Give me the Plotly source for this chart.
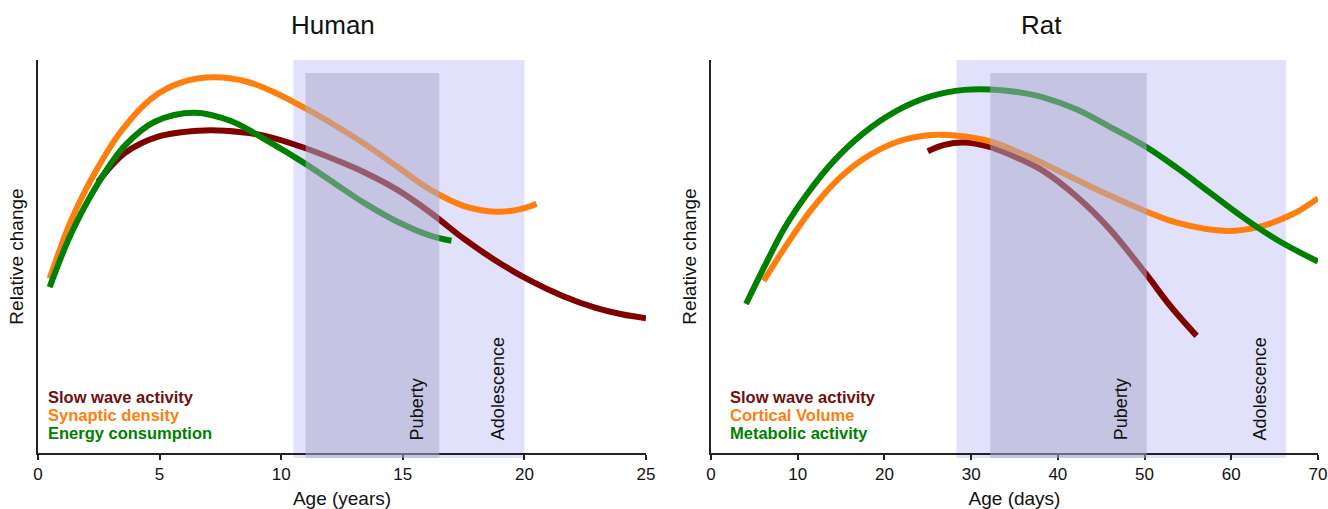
import plotly.graph_objects as go

# ---------------- data ----------------
human_swa_x = [2.47, 3.57, 4.94, 6.58, 7.68, 9.33, 10.97, 12.35, 13.39, 14.76, 16.13, 17.49, 18.86, 20.2, 21.6, 22.9, 24.0, 25.0]
human_swa_y = [69.0, 76.3, 80.5, 82.0, 82.0, 80.7, 77.6, 74.3, 71.5, 67.0, 61.2, 54.6, 48.8, 44.0, 39.9, 37.0, 35.3, 34.3]

human_syn_x = [0.48, 1.37, 2.33, 3.43, 4.66, 5.9, 7.27, 8.64, 9.88, 10.97, 12.2, 13.39, 14.76, 16.13, 17.49, 18.86, 19.8, 20.5]
human_syn_y = [44.4, 59.3, 71.2, 82.0, 90.2, 94.3, 95.6, 94.4, 91.3, 87.8, 83.4, 78.8, 72.9, 67.0, 62.9, 61.4, 62.0, 63.4]

human_energy_x = [0.48, 1.37, 2.47, 3.57, 4.8, 6.45, 7.96, 9.33, 10.97, 12.2, 13.39, 14.76, 16.13, 17.0]
human_energy_y = [42.2, 55.9, 68.6, 78.2, 84.3, 86.6, 84.4, 79.8, 73.7, 68.6, 63.7, 58.9, 55.3, 54.0]

rat_swa_x = [25.0, 26.9, 29.2, 31.9, 34.6, 38.3, 42.2, 46.0, 50.25, 52.9, 56.0]
rat_swa_y = [76.8, 78.4, 79.0, 78.0, 75.8, 71.8, 65.2, 56.9, 45.3, 37.6, 29.8]

rat_cortex_x = [6.07, 8.46, 11.53, 14.6, 17.7, 21.5, 25.4, 28.45, 32.3, 35.5, 38.3, 42.2, 46.0, 50.25, 53.7, 59.5, 63.3, 67.1, 70.0]
rat_cortex_y = [43.8, 52.1, 61.8, 69.5, 75.0, 79.2, 80.9, 80.7, 79.2, 76.5, 73.7, 69.5, 65.5, 61.4, 58.6, 56.5, 57.6, 60.8, 64.8]

rat_metab_x = [4.04, 6.15, 8.46, 11.15, 14.2, 17.7, 21.5, 25.4, 29.2, 32.3, 35.5, 38.3, 42.2, 46.0, 50.25, 53.7, 57.5, 61.4, 65.3, 70.0]
rat_metab_y = [37.9, 47.4, 57.2, 66.1, 74.4, 81.6, 87.2, 90.8, 92.4, 92.5, 91.8, 90.5, 87.4, 83.0, 77.8, 72.6, 66.3, 59.9, 54.2, 48.7]

human_labels = ["Slow wave activity", "Synaptic density", "Energy consumption"]
rat_labels = ["Slow wave activity", "Cortical Volume", "Metabolic activity"]

human_adolescence = [10.5, 20.0]
human_puberty = [11.0, 16.5]
rat_adolescence = [28.3, 66.3]
rat_puberty = [32.2, 50.25]

human_ticks = [0, 5, 10, 15, 20, 25]
rat_ticks = [0, 10, 20, 30, 40, 50, 60, 70]

# ---------------- style ----------------
W, H = 1328, 509
C_SWA = "#800000"
C_ORG = "#FF7F0E"
C_GRN = "#008000"
TXT_SWA = "#6E1010"
FONT = "Liberation Sans, Arial, sans-serif"
LW = 6

def px_x(p):
    return p / W

def px_y(p):
    return (H - p) / H

fig = go.Figure()

def add_line(x, y, color, xa, ya):
    fig.add_trace(go.Scatter(x=x, y=y, mode="lines", xaxis=xa, yaxis=ya,
                             line=dict(color=color, width=LW, shape="spline", smoothing=1.0),
                             showlegend=False, hoverinfo="skip"))

add_line(human_swa_x, human_swa_y, C_SWA, "x", "y")
add_line(human_syn_x, human_syn_y, C_ORG, "x", "y")
add_line(human_energy_x, human_energy_y, C_GRN, "x", "y")
add_line(rat_swa_x, rat_swa_y, C_SWA, "x2", "y2")
add_line(rat_cortex_x, rat_cortex_y, C_ORG, "x2", "y2")
add_line(rat_metab_x, rat_metab_y, C_GRN, "x2", "y2")

shade_bottom = px_y(458)
for xr, ado, pub in [("x", human_adolescence, human_puberty), ("x2", rat_adolescence, rat_puberty)]:
    fig.add_shape(type="rect", xref=xr, yref="paper", x0=ado[0], x1=ado[1],
                  y0=shade_bottom, y1=px_y(60), fillcolor="#E1E1FB",
                  line=dict(width=0), layer="below")
    fig.add_shape(type="rect", xref=xr, yref="paper", x0=pub[0], x1=pub[1],
                  y0=shade_bottom, y1=px_y(73), fillcolor="rgba(172,172,206,0.53)",
                  line=dict(width=0), layer="above")

ydom = [px_y(453), px_y(60)]
axis_common = dict(showline=True, linecolor="#222222", linewidth=1.5, showgrid=False,
                   zeroline=False, automargin=False)
fig.update_layout(
    width=W, height=H,
    margin=dict(l=0, r=0, t=0, b=0),
    paper_bgcolor="white", plot_bgcolor="white",
    font=dict(family=FONT, color="#111111"),
    xaxis=dict(domain=[px_x(38), px_x(646)], range=[0, 25], anchor="y",
               tickmode="array", tickvals=human_ticks, ticks="outside", ticklen=5,
               tickwidth=1.5, tickcolor="#222222", tickfont=dict(size=17),
               title=dict(text="Age (years)", font=dict(size=19), standoff=12),
               **axis_common),
    yaxis=dict(domain=ydom, range=[0, 100], anchor="x", showticklabels=False, ticks="",
               title=dict(text="Relative change", font=dict(size=19), standoff=8),
               **axis_common),
    xaxis2=dict(domain=[px_x(711), px_x(1318)], range=[0, 70], anchor="y2",
                tickmode="array", tickvals=rat_ticks, ticks="outside", ticklen=5,
                tickwidth=1.5, tickcolor="#222222", tickfont=dict(size=17),
                title=dict(text="Age (days)", font=dict(size=19), standoff=12),
                **axis_common),
    yaxis2=dict(domain=ydom, range=[0, 100], anchor="x2", showticklabels=False, ticks="",
                title=dict(text="Relative change", font=dict(size=19), standoff=8),
                **axis_common),
)

ann = []
ann.append(dict(text="Human", xref="paper", yref="paper", x=px_x(333), y=px_y(25),
                showarrow=False, font=dict(size=26, color="#111111"), xanchor="center", yanchor="middle"))
ann.append(dict(text="Rat", xref="paper", yref="paper", x=px_x(1041), y=px_y(25),
                showarrow=False, font=dict(size=26, color="#111111"), xanchor="center", yanchor="middle"))

for xr, yr, xp, xa in [("x", "y", 15.6, 18.9), ("x2", "y2", 47.3, 63.3)]:
    ann.append(dict(text="Puberty", xref=xr, yref=yr, x=xp, y=2.8, textangle=-90,
                    showarrow=False, font=dict(size=18, color="#111111"),
                    xanchor="center", yanchor="bottom"))
    ann.append(dict(text="Adolescence", xref=xr, yref=yr, x=xa, y=2.8, textangle=-90,
                    showarrow=False, font=dict(size=18, color="#111111"),
                    xanchor="center", yanchor="bottom"))

leg_y = [14.2, 9.7, 5.1]
leg_c = [TXT_SWA, C_ORG, C_GRN]
for xr, yr, x0, labels in [("x", "y", 0.33, human_labels), ("x2", "y2", 2.0, rat_labels)]:
    for lbl, yy, cc in zip(labels, leg_y, leg_c):
        ann.append(dict(text="<b>%s</b>" % lbl, xref=xr, yref=yr, x=x0, y=yy,
                        showarrow=False, font=dict(size=16.5, color=cc),
                        xanchor="left", yanchor="middle"))

fig.update_layout(annotations=ann)
fig.write_html("out.html", config={"displayModeBar": False},
               post_script="document.body.style.margin='0';document.body.style.overflow='hidden';")
